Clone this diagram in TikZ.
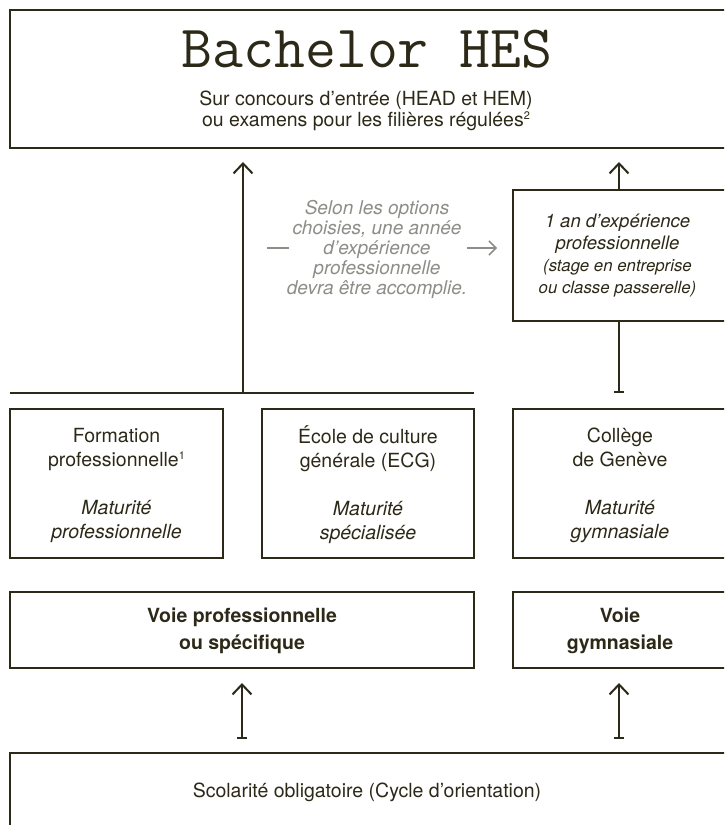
\documentclass[tikz,border=0pt]{standalone}
\usepackage{fontspec}
\setmainfont{TeX Gyre Heros}
\setmonofont{Latin Modern Mono}
\usetikzlibrary{arrows.meta}
\definecolor{ink}{HTML}{2D2918}
\definecolor{greytxt}{HTML}{8E8D88}
\newcommand{\bigit}{\fontsize{18.5}{22}\selectfont\itshape}
\newcommand{\smit}{\fontsize{16.8}{20}\selectfont\itshape}
\newcommand{\supr}[1]{\raisebox{7pt}{\fontsize{11}{11}\selectfont #1}}
\begin{document}
\begin{tikzpicture}[x=1pt,y=-1pt,
  box/.style={draw=ink, line width=2.2pt, inner sep=0pt, outer sep=0pt, rectangle},
  txt/.style={inner sep=0pt, outer sep=0pt, text=ink, align=center, font=\fontsize{19.5}{24}\selectfont},
  gtxt/.style={inner sep=0pt, outer sep=0pt, text=greytxt, align=center, font=\fontsize{19}{20}\selectfont\itshape},
  uparrow/.style={draw=ink, line width=2pt, -{Straight Barb[length=10pt,width=19pt,line width=2pt]}},
  teearrow/.style={draw=ink, line width=2pt, {Bar[width=10pt,line width=2pt]}-{Straight Barb[length=10pt,width=19pt,line width=2pt]}},
  teeline/.style={draw=ink, line width=2pt, -{Bar[width=10pt,line width=2pt]}},
  gline/.style={draw=greytxt, line width=1.5pt}
]
\clip (0,0) rectangle (724,825);
\fill[white] (0,0) rectangle (724,825);

% boxes
\node[box, line width=2.6pt, minimum width=735pt, minimum height=138pt] (top) at (377.5,79) {};
\node[box, minimum width=213pt, minimum height=149pt] (form) at (116.5,483.5) {};
\node[box, minimum width=212pt, minimum height=149pt] (ecg) at (368,483.5) {};
\node[box, minimum width=227pt, minimum height=149pt] (coll) at (626.5,483.5) {};
\node[box, minimum width=464pt, minimum height=76pt] (voiep) at (242,630) {};
\node[box, minimum width=227pt, minimum height=76pt] (voieg) at (626.5,630) {};
\node[box, minimum width=227pt, minimum height=131pt] (exp) at (626.5,255.5) {};
\node[box, minimum width=735pt, minimum height=147pt] (scol) at (377.5,826.5) {};

% texts
\node[inner sep=0pt, text=ink, anchor=base, font=\fontsize{60}{60}\selectfont\ttfamily] (title) at (367,67) {Bachelor HES};
\node[txt, font=\fontsize{19.5}{21}\selectfont] (sub) at (366,110.5) {Sur concours d’entrée (HEAD et HEM)\\ou examens pour les filières régulées\supr{2}};
\node[txt] (formt) at (116.5,485) {Formation\\professionnelle\supr{1}\\[24pt]\textit{Maturité}\\\textit{professionnelle}};
\node[txt] (ecgt) at (368,485) {École de culture\\générale (ECG)\\[24pt]\textit{Maturité}\\\textit{spécialisée}};
\node[txt] (collt) at (620,485) {Collège\\de Genève\\[24pt]\textit{Maturité}\\\textit{gymnasiale}};
\node[txt, font=\fontsize{19.5}{27}\selectfont\bfseries] (voiept) at (242,631) {Voie professionnelle\\ou spécifique};
\node[txt, font=\fontsize{19.5}{27}\selectfont\bfseries] (voiegt) at (620,631) {Voie\\gymnasiale};
\node[txt, font=\fontsize{19.5}{24}\selectfont] (scolt) at (367,792) {Scolarité obligatoire (Cycle d’orientation)};
\node[txt, font=\bigit] (expt) at (617.5,256) {\bigit 1 an d’expérience\\\bigit professionnelle\\\smit (stage en entreprise\\\smit ou classe passerelle)};
\node[gtxt] (note) at (377,249) {Selon les options\\choisies, une année\\d’expérience\\professionnelle\\devra être accomplie.};

% connectors
\coordinate (hl) at (10,393);
\coordinate (hr) at (474,393);
\coordinate (j1) at (243,393);
\coordinate (rc) at (619,393);
\coordinate (d1) at (267,248);
\coordinate (d2) at (289,248);
\coordinate (a1) at (467,248);
\coordinate (a2) at (497,248);

\draw[draw=ink, line width=2pt] (hl) -- (hr);
\draw[uparrow, shorten >=14pt] (j1) -- (j1 |- top.south);
\draw[uparrow, shorten >=14pt] (exp.north -| rc) -- (top.south -| rc);
\draw[teeline] (exp.south -| rc) -- (rc);
\draw[teearrow, shorten <=14pt, shorten >=15pt] (scol.north -| voiep.south) -- (voiep.south);
\draw[teearrow, shorten <=14pt, shorten >=15pt] (scol.north -| rc) -- (voieg.south -| rc);
\draw[gline] (d1) -- (d2);
\draw[gline, -{Straight Barb[length=7pt,width=14pt,line width=1.5pt]}] (a1) -- (a2);
\end{tikzpicture}
\end{document}
